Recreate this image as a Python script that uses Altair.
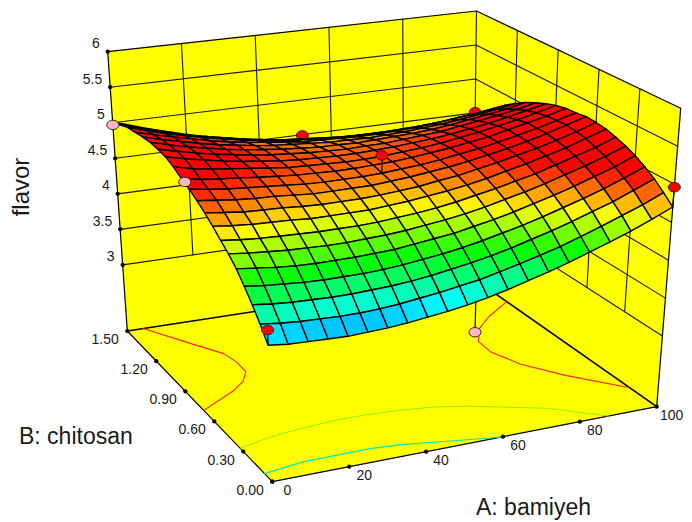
# Design-Expert style response surface. The flavor grid below is hand-estimated:
# readings were taken along the surface edges and at its centre, then smoothed by hand
# across the mesh nodes, so interior nodes are estimates rather than individual readings.
import numpy as np
import pandas as pd
import altair as alt

A_grid = [i * 5 for i in range(21)]
B_grid = [i * 0.075 for i in range(21)]
flavor_rows = [
    [3.78,3.75,3.74,3.73,3.72,3.73,3.74,3.76,3.79,3.82,3.86,3.91,3.97,4.04,4.11,4.19,4.28,4.37,4.47,4.58,4.70],
    [3.96,3.93,3.91,3.90,3.89,3.89,3.90,3.92,3.95,3.98,4.02,4.06,4.12,4.18,4.25,4.32,4.41,4.50,4.60,4.70,4.82],
    [4.12,4.09,4.07,4.06,4.05,4.05,4.06,4.07,4.09,4.12,4.16,4.20,4.25,4.31,4.38,4.45,4.53,4.62,4.71,4.82,4.93],
    [4.27,4.24,4.22,4.20,4.19,4.19,4.19,4.20,4.22,4.25,4.28,4.32,4.37,4.43,4.49,4.56,4.64,4.72,4.81,4.91,5.02],
    [4.41,4.38,4.35,4.33,4.32,4.32,4.32,4.33,4.34,4.37,4.40,4.43,4.48,4.53,4.59,4.66,4.73,4.81,4.90,4.99,5.10],
    [4.52,4.49,4.47,4.45,4.44,4.43,4.43,4.44,4.45,4.47,4.50,4.53,4.57,4.62,4.68,4.74,4.81,4.89,4.97,5.06,5.16],
    [4.61,4.58,4.56,4.55,4.54,4.53,4.53,4.53,4.54,4.56,4.58,4.61,4.65,4.70,4.75,4.81,4.87,4.95,5.03,5.11,5.21],
    [4.71,4.68,4.66,4.65,4.64,4.62,4.62,4.62,4.62,4.64,4.66,4.69,4.72,4.76,4.81,4.87,4.93,5.00,5.07,5.16,5.25],
    [4.80,4.77,4.74,4.73,4.72,4.70,4.69,4.69,4.69,4.70,4.72,4.74,4.78,4.81,4.86,4.91,4.97,5.03,5.10,5.18,5.27],
    [4.88,4.85,4.82,4.80,4.79,4.77,4.75,4.75,4.75,4.75,4.77,4.79,4.82,4.85,4.89,4.94,4.99,5.05,5.12,5.20,5.28],
    [4.95,4.91,4.88,4.86,4.84,4.82,4.80,4.79,4.79,4.79,4.80,4.82,4.84,4.87,4.91,4.95,5.00,5.06,5.12,5.19,5.26],
    [5.01,4.96,4.93,4.91,4.88,4.86,4.84,4.83,4.82,4.82,4.83,4.84,4.86,4.89,4.92,4.96,5.00,5.06,5.12,5.18,5.25],
    [5.08,5.02,4.98,4.95,4.92,4.89,4.86,4.85,4.84,4.83,4.83,4.84,4.86,4.88,4.91,4.95,4.99,5.04,5.09,5.15,5.22],
    [5.13,5.07,5.02,4.97,4.93,4.90,4.87,4.85,4.84,4.83,4.83,4.84,4.85,4.87,4.89,4.92,4.96,5.00,5.05,5.11,5.17],
    [5.15,5.09,5.03,4.98,4.94,4.90,4.87,4.85,4.83,4.82,4.81,4.82,4.82,4.84,4.86,4.88,4.92,4.96,5.00,5.05,5.11],
    [5.16,5.09,5.03,4.98,4.93,4.89,4.86,4.83,4.81,4.79,4.79,4.78,4.79,4.80,4.81,4.83,4.86,4.90,4.94,4.98,5.04],
    [5.15,5.08,5.02,4.96,4.91,4.87,4.83,4.80,4.78,4.76,4.74,4.74,4.73,4.74,4.75,4.77,4.79,4.82,4.86,4.90,4.95],
    [5.13,5.06,5.00,4.94,4.88,4.83,4.79,4.76,4.73,4.70,4.69,4.68,4.67,4.67,4.68,4.69,4.71,4.74,4.77,4.80,4.85],
    [5.11,5.03,4.96,4.90,4.84,4.79,4.74,4.70,4.67,4.64,4.62,4.60,4.59,4.59,4.59,4.60,4.61,4.63,4.66,4.69,4.73],
    [5.06,4.98,4.91,4.84,4.78,4.73,4.68,4.63,4.59,4.56,4.54,4.52,4.50,4.49,4.49,4.49,4.50,4.52,4.54,4.56,4.60],
    [5.01,4.93,4.85,4.78,4.71,4.65,4.60,4.55,4.51,4.47,4.44,4.42,4.40,4.38,4.38,4.37,4.38,4.39,4.40,4.43,4.45],
]

A_ticks = [0, 20, 40, 60, 80, 100]
B_ticks = [0.0, 0.3, 0.6, 0.9, 1.2, 1.5]
Z_ticks = [3, 3.5, 4, 4.5, 5, 5.5, 6]
Z_labels = ["3", "3.5", "4", "4.5", "5", "5.5", "6"]
A_labels = ["0", "20", "40", "60", "80", "100"]
B_labels = ["0.00", "0.30", "0.60", "0.90", "1.20", "1.50"]
Z_FLOOR = 2.07

# Design points (A, B, flavor)
red_back = [(52, 1.5, 4.49), (100, 1.5, 4.51)]
red_front = [(0, 0.0, 3.97), (50, 0.75, 5.04), (100, 0.0, 4.96)]
pink_front = [(0, 1.5, 4.97), (0, 0.79, 5.0)]
pink_under = [(52, 0.0, 3.49)]
stems_back = [((52, 1.5, 4.49), (52, 1.5, 4.44)), ((100, 1.5, 4.51), (100, 1.5, 4.45))]
stems_front = [((0, 0.0, 3.97), (0, 0.0, 3.78)), ((50, 0.75, 5.04), (50, 0.75, 4.80)),
               ((100, 0.0, 4.96), (100, 0.0, 4.70)), ((52, 0.0, 3.49), (52, 0.0, 3.89))]

# Floor contours (A, B)
contour_red_left = [(4.6,1.5),(12.5,1.31),(18.2,1.17),(19.2,1.08),(19,.98),(16,.90),(11.2,.83),(0,.71)]
contour_red_right = [(100,1.225),(91,1.11),(85.5,1.02),(81,.895),(80.7,.784),(83.7,.62),(90.3,.44),(100,.22)]
contour_green = [(0,.333),(9.3,.38),(18,.405),(28,.42),(36,.42),(44.7,.405),(53.5,.375),(61,.325),(68,.26),(76.6,.18),(87.5,0)]
contour_cyan = [(0,.08),(11,.117),(28.7,.12),(37,.10),(44.7,.066),(59.3,0)]

# Box corners as seen in the reference, page pixels: (A, B) -> floor / top of the box
floor_corners = {(0, 0): (272.3, 481.7), (1, 0): (656.7, 406.7), (0, 1): (127.3, 331.0), (1, 1): (473.0, 278.0)}
top_corners = {(0, 0): (262.6, 168.1), (1, 0): (680.7, 108.3), (0, 1): (107.7, 51.7), (1, 1): (476.5, 11.0)}

def bilinear(corners, u, v):
    out = []
    for d in range(2):
        out.append((1 - u) * (1 - v) * corners[(0, 0)][d] + u * (1 - v) * corners[(1, 0)][d]
                   + (1 - u) * v * corners[(0, 1)][d] + u * v * corners[(1, 1)][d])
    return out

def project(a, b, c):
    u, v, t = a / 100.0, b / 1.5, (c - Z_FLOOR) / (6 - Z_FLOOR)
    f = bilinear(floor_corners, u, v)
    g = bilinear(top_corners, u, v)
    return f[0] + t * (g[0] - f[0]), f[1] + t * (g[1] - f[1])

def to_view(p):
    x, y = project(*p)
    return [float(x - 8), float(y - 8)]

def feature(corners, z=0.0):
    ring = [to_view(c) for c in corners]
    ring.append(ring[0])
    return {"type": "Feature", "properties": {"z": z}, "geometry": {"type": "Polygon", "coordinates": [ring]}}

def polyline(points):
    return {"type": "Feature", "properties": {}, "geometry": {"type": "LineString", "coordinates": [to_view(p) for p in points]}}

xs = alt.Scale(domain=[8, 684], nice=False, zero=False)
ys = alt.Scale(domain=[520, 8], nice=False, zero=False)

def geo_lines(lines, color, width):
    return alt.Chart(alt.Data(values=[polyline(l) for l in lines])).mark_geoshape(
        filled=False, stroke=color, strokeWidth=width, strokeJoin="round", strokeCap="round"
    ).project(type="identity", scale=1, translate=[0, 0])

# Walls
zf = Z_FLOOR
walls = [
    feature([(0,0,zf),(100,0,zf),(100,1.5,zf),(0,1.5,zf)]),
    feature([(0,1.5,zf),(100,1.5,zf),(100,1.5,6),(0,1.5,6)]),
    feature([(100,1.5,zf),(100,0,zf),(100,0,6),(100,1.5,6)]),
]
wall_layer = alt.Chart(alt.Data(values=walls)).mark_geoshape(fill="#ffff00", stroke="#ffff00", strokeWidth=0.5).project(type="identity", scale=1, translate=[0, 0])

# Surface quads, back to front
quads = []
for j in range(19, -1, -1):
    for i in range(19, -1, -1):
        zs = [flavor_rows[j][i], flavor_rows[j][i+1], flavor_rows[j+1][i+1], flavor_rows[j+1][i]]
        quads.append(feature([(A_grid[i], B_grid[j], zs[0]), (A_grid[i+1], B_grid[j], zs[1]),
                              (A_grid[i+1], B_grid[j+1], zs[2]), (A_grid[i], B_grid[j+1], zs[3])], float(np.mean(zs))))
surface_layer = alt.Chart(alt.Data(values=quads)).mark_geoshape(stroke="#000000", strokeWidth=1.4, strokeJoin="round").encode(
    color=alt.Color("properties.z:Q", legend=None,
                    scale=alt.Scale(domain=[3.5, 3.9, 4.28, 4.62, 4.95],
                                    range=["#0000ff", "#00ffff", "#00ff00", "#ffff00", "#ff0000"],
                                    interpolate="rgb", clamp=True))
).project(type="identity", scale=1, translate=[0, 0])

# Wall grid and box edges
grid_lines = ([[(a, 1.5, 3), (a, 1.5, 6)] for a in A_ticks[1:-1]]
              + [[(100, b, 3), (100, b, 6)] for b in B_ticks[1:-1]]
              + [[(0, 1.5, z), (100, 1.5, z), (100, 0, z)] for z in Z_ticks[:-1]]
              + [[(100, 1.5, 3), (100, 1.5, 6)]])
edge_lines = [[(0, 1.5, 6), (100, 1.5, 6), (100, 0, 6)], [(0, 1.5, zf), (0, 1.5, 6)], [(100, 0, zf), (100, 0, 6)],
              [(0, 1.5, zf), (0, 0, zf), (100, 0, zf)]]
floor_back = [[(0, 1.5, zf), (100, 1.5, zf), (100, 0, zf)]]

def on_floor(pts):
    return [(a, b, zf) for a, b in pts]

def dots_df(pts):
    return pd.DataFrame([dict(zip("xy", map(float, project(*p)))) for p in pts])

ELLIPSE = "M-1,0A1,0.78 0 1,1 1,0A1,0.78 0 1,1 -1,0Z"
def dots(pts, fill):
    return alt.Chart(dots_df(pts)).mark_point(shape=ELLIPSE, size=144, filled=True, fill=fill, stroke="#222222",
                                              strokeWidth=1, opacity=1).encode(
        x=alt.X("x:Q", scale=xs, axis=None), y=alt.Y("y:Q", scale=ys, axis=None))

tick_pts = ([(a, 0, zf) for a in A_ticks] + [(0, b, zf) for b in B_ticks] + [(0, 1.5, z) for z in Z_ticks])
ticks = alt.Chart(dots_df(tick_pts)).mark_circle(size=18, color="#000000", opacity=1).encode(
    x=alt.X("x:Q", scale=xs, axis=None), y=alt.Y("y:Q", scale=ys, axis=None))

def text_layer(labels, pts, dx, dy, align, size=14):
    rows = []
    for t, p in zip(labels, pts):
        x, y = project(*p)
        rows.append({"t": t, "x": float(x + dx), "y": float(y + dy)})
    return alt.Chart(pd.DataFrame(rows)).mark_text(font="Liberation Sans", fontSize=size, align=align,
                                                   baseline="middle", color="#1a1a1a").encode(
        x=alt.X("x:Q", scale=xs, axis=None), y=alt.Y("y:Q", scale=ys, axis=None), text="t:N")

z_text = text_layer(Z_labels, [(0, 1.5, z) for z in Z_ticks], -8, -7.5, "right")
b_text = text_layer(B_labels, [(0, b, zf) for b in B_ticks], -8.5, 9, "right")
a_text = text_layer(A_labels, [(a, 0, zf) for a in A_ticks], 15, 9.5, "center")

titles = pd.DataFrame({"t": ["B: chitosan", "A: bamiyeh"], "x": [19.0, 476.0], "y": [437.0, 508.0]})
title_text = alt.Chart(titles).mark_text(font="Liberation Sans", fontSize=23, align="left", baseline="middle", color="#1a1a1a").encode(
    x=alt.X("x:Q", scale=xs, axis=None), y=alt.Y("y:Q", scale=ys, axis=None), text="t:N")
flavor_title = alt.Chart(pd.DataFrame({"t": ["flavor"], "x": [22.0], "y": [187.0]})).mark_text(
    font="Liberation Sans", fontSize=24, angle=270, align="center", baseline="middle", color="#1a1a1a").encode(
    x=alt.X("x:Q", scale=xs, axis=None), y=alt.Y("y:Q", scale=ys, axis=None), text="t:N")

chart = alt.layer(
    wall_layer,
    geo_lines(grid_lines, "#1a1a00", 1.1),
    geo_lines(edge_lines, "#000000", 1.2),
    geo_lines(floor_back, "#000000", 1.6),
    geo_lines([on_floor(contour_red_left), on_floor(contour_red_right)], "#ff2020", 1.1),
    geo_lines([on_floor(contour_green)], "#90f000", 1.0),
    geo_lines([on_floor(contour_cyan)], "#00e8c0", 1.2),
    geo_lines([list(s) for s in stems_back], "#000000", 1.2),
    dots(red_back, "#ff0000"),
    surface_layer,
    geo_lines([list(s) for s in stems_front], "#000000", 1.2),
    ticks,
    dots(pink_under + pink_front, "#ffb6c1"),
    dots(red_front, "#ff0000"),
    z_text, b_text, a_text, title_text, flavor_title,
).properties(width=676, height=512, padding=0, background="#ffffff",
             autosize=alt.AutoSizeParams(type="none")).configure_view(stroke=None)

chart.save("out.html", embed_options={"renderer": "svg", "actions": False})
